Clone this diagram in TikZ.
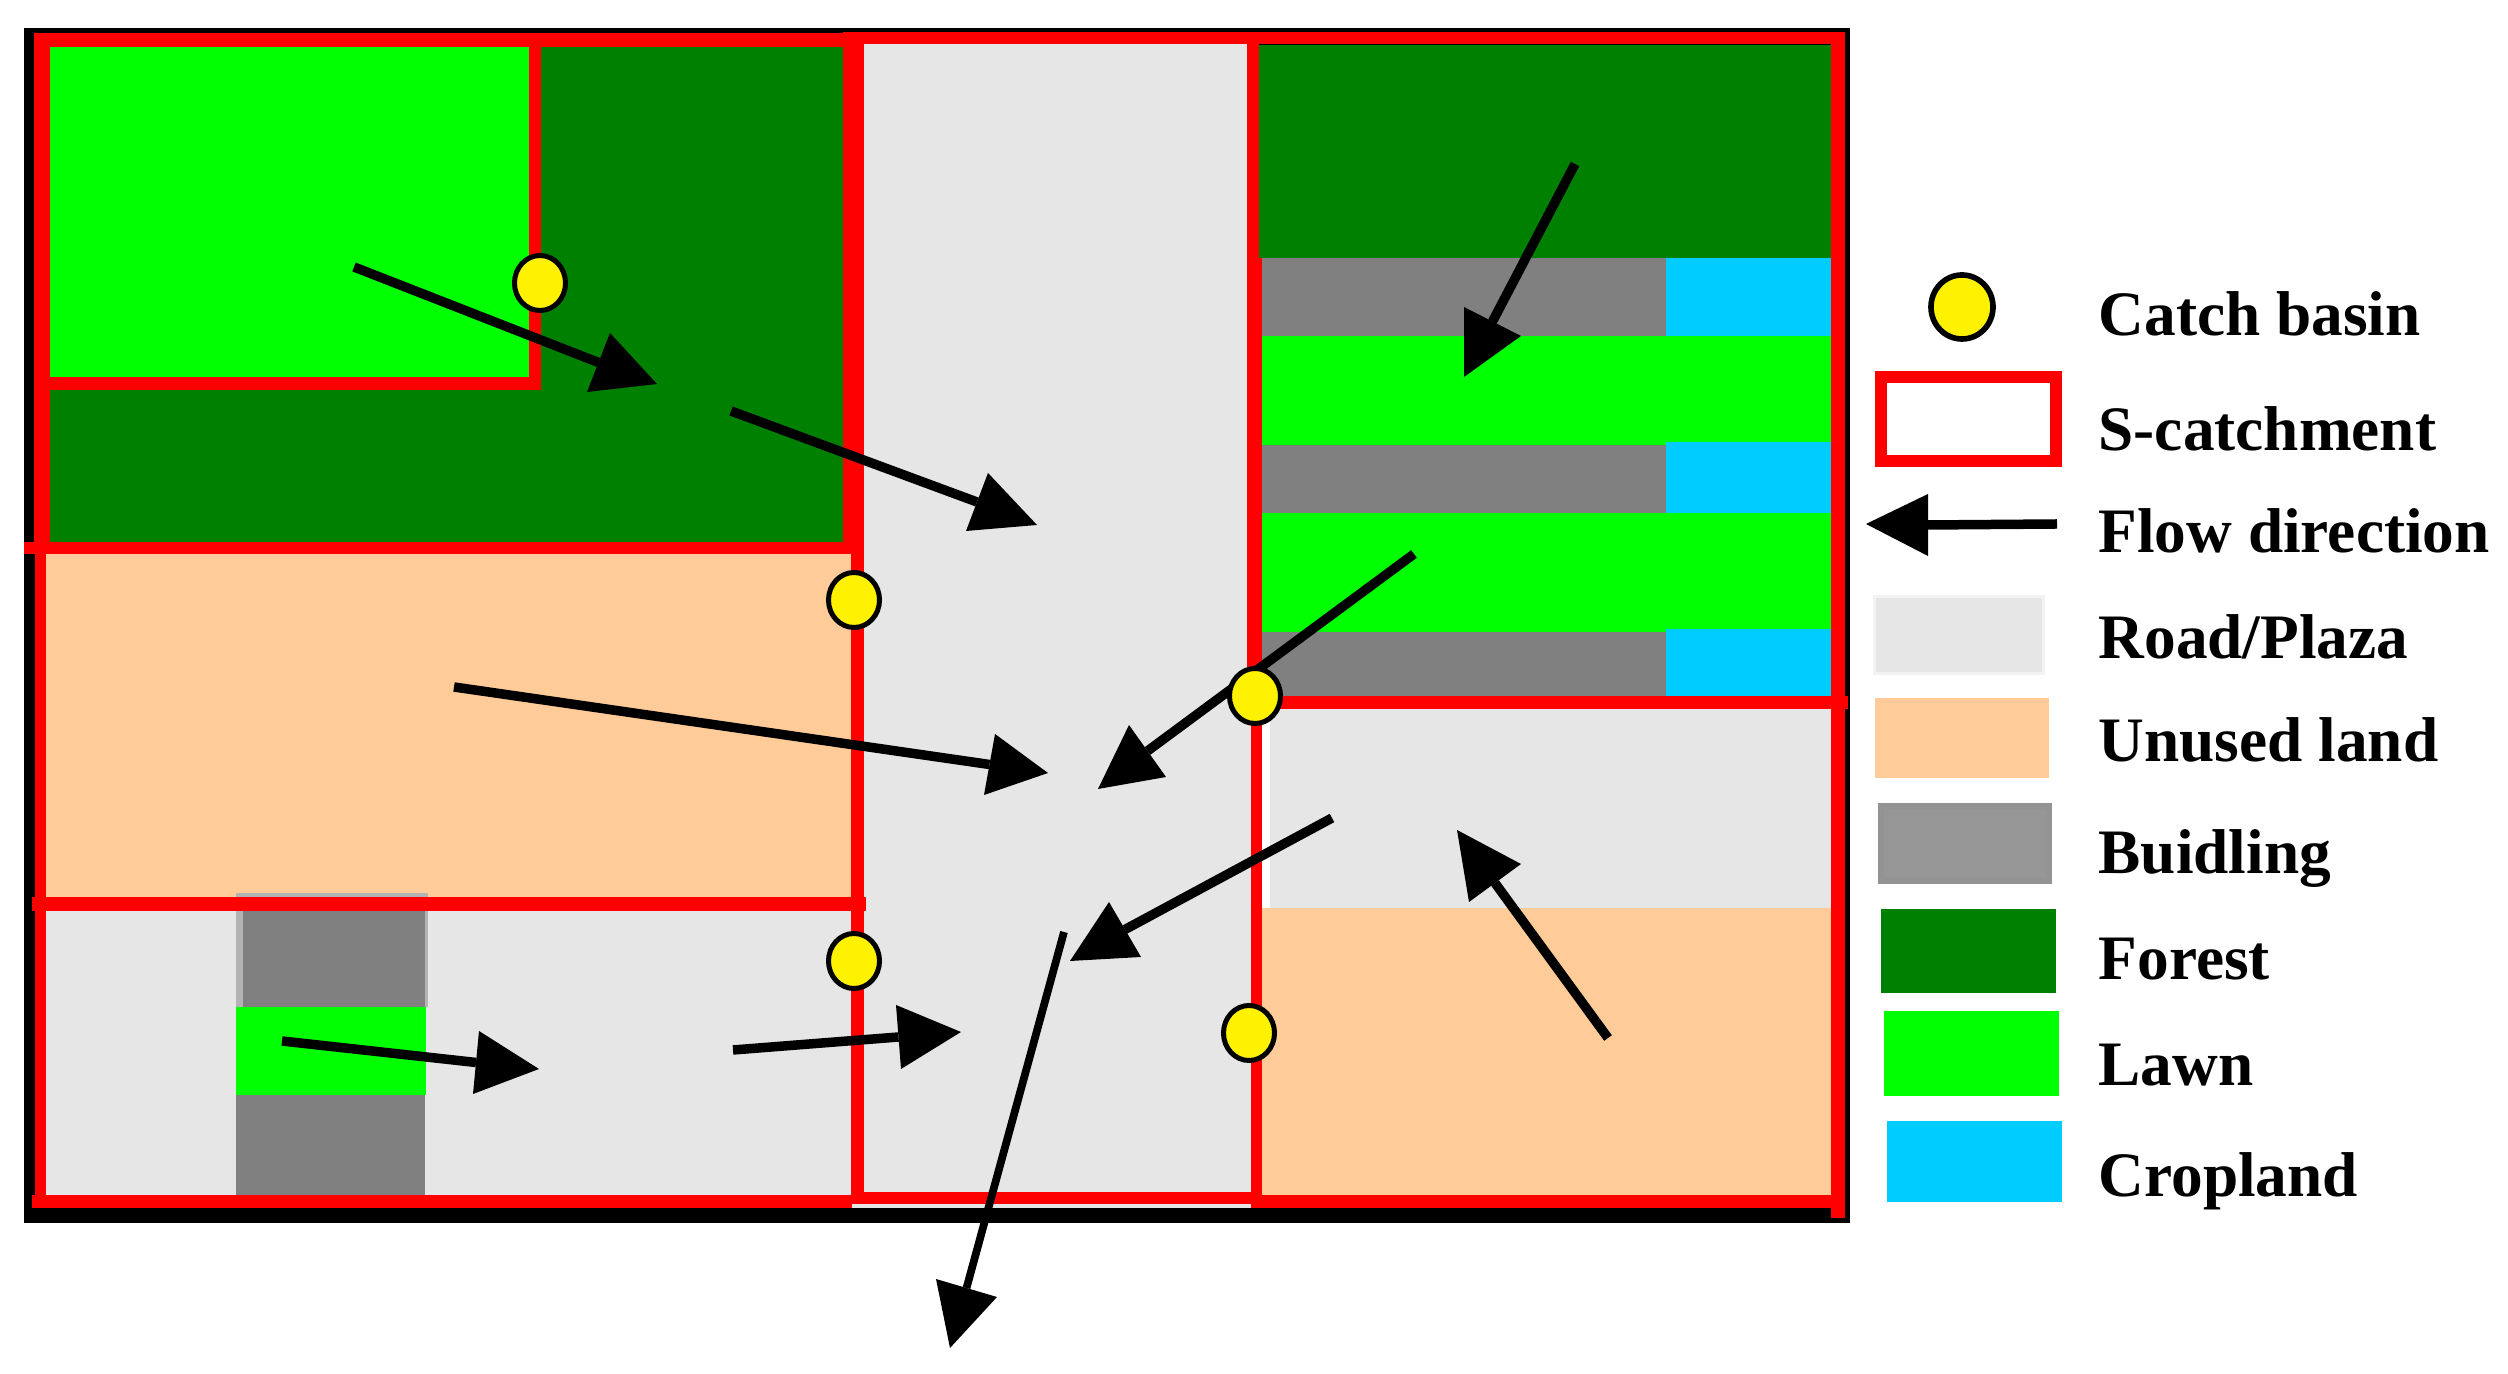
\documentclass[tikz,border=0pt]{standalone}
\usepackage{fontspec}
\setmainfont{Liberation Serif}
\usetikzlibrary{shapes.geometric,calc}
\definecolor{lawn}{HTML}{00FF00}
\definecolor{forest}{HTML}{008000}
\definecolor{unused}{HTML}{FFCC99}
\definecolor{road}{HTML}{E6E6E6}
\definecolor{bldg}{HTML}{808080}
\definecolor{crop}{HTML}{00CCFF}
\definecolor{redline}{HTML}{FF0000}
\tikzset{
  basin/.style={ellipse,draw=black,fill=yellow,line width=1.42pt,inner sep=0pt,minimum width=0.51cm,minimum height=0.55cm},
  legendbasin/.style={basin,line width=1.6pt,minimum width=0.62cm,minimum height=0.64cm},
  legendtext/.style={anchor=base west,inner sep=0pt,font=\fontsize{18pt}{20pt}\selectfont\bfseries},
  shaft/.style={line width=2.7pt,black},
  thinshaft/.style={line width=2.2pt,black},
  head/.style={fill=black}
}
\newcommand{\flowarrow}[5][shaft]{%
  \draw[#1] (#2) -- ($(#4)!0.5!(#5)$);
  \fill[head] (#3) -- (#4) -- (#5) -- cycle;}
\begin{document}
\begin{tikzpicture}[x=0.01cm,y=-0.01cm]
\useasboundingbox (0,0) rectangle (2508,1374);
\fill[white] (0,0) rectangle (2508,1374);
% frame
\fill[black] (24,28) rectangle (1850,1223);
% land use, upper left
\fill[forest] (47,47) rectangle (843,542);
\fill[lawn] (50,47) rectangle (529,377);
% unused land, left
\fill[unused] (43,554) rectangle (852,897);
% road, lower left
\fill[road] (45,911) rectangle (852,1195);
\fill[bldg!60!white] (236,893) rectangle (428,1007);
\fill[bldg] (243,911) rectangle (425,1007);
\fill[bldg] (236,1095) rectangle (425,1197);
\fill[lawn] (236,1007) rectangle (426,1095);
% middle road
\fill[road] (852,44) rectangle (1251,1208);
% right column
\fill[forest] (1259,45) rectangle (1831,258);
\fill[bldg] (1262,258) rectangle (1666,336);
\fill[crop] (1666,258) rectangle (1831,336);
\fill[lawn] (1262,336) rectangle (1831,445);
\fill[bldg] (1262,445) rectangle (1666,513);
\fill[crop] (1666,442) rectangle (1831,516);
\fill[lawn] (1262,513) rectangle (1831,632);
\fill[bldg] (1262,632) rectangle (1666,696);
\fill[crop] (1666,629) rectangle (1831,696);
\fill[white] (1262,709) rectangle (1834,1197);
\fill[road] (1270,709) rectangle (1831,908);
\fill[unused] (1262,908) rectangle (1831,1197);
% red catchment boundaries
\fill[redline] (34,33) rectangle (864,47);
\fill[redline] (34,33) rectangle (50,542);
\fill[redline] (35,542) rectangle (46,1208);
\fill[redline] (529,47) rectangle (541,390);
\fill[redline] (34,377) rectangle (541,390);
\fill[redline] (843,32) rectangle (864,554);
\fill[redline] (24,542) rectangle (864,554);
\fill[redline] (32,897) rectangle (866,911);
\fill[redline] (851,554) rectangle (864,1204);
\fill[redline] (32,1195) rectangle (852,1208);
\fill[redline] (852,1192) rectangle (1260,1204);
\fill[redline] (852,32) rectangle (1845,44);
\fill[redline] (1247,32) rectangle (1259,258);
\fill[redline] (1247,258) rectangle (1262,696);
\fill[redline] (1251,696) rectangle (1262,1208);
\fill[redline] (1251,696) rectangle (1848,709);
\fill[redline] (1831,32) rectangle (1845,1218);
\fill[redline] (1260,1195) rectangle (1845,1208);
% flow arrows
\flowarrow{354,267}{657,384}{610,333}{587,392}
\flowarrow{731,411}{1037,525}{988,473}{966,531}
\flowarrow{454,687}{1048,773}{995,734}{984,795}
\flowarrow{282,1041}{539,1069}{479,1031}{473,1094}
\flowarrow{733,1050}{961,1032}{896,1005}{901,1069}
\flowarrow[thinshaft]{1064,932}{950,1348}{936,1279}{997,1297}
\flowarrow{1332,818}{1070,961}{1109,902}{1141,957}
\flowarrow{1414,554}{1098,789}{1129,725}{1166,777}
\flowarrow{1575,164}{1464,377}{1464,307}{1521,336}
\flowarrow{1608,1038}{1457,830}{1521,864}{1469,902}
% catch basins
\node[basin] (cb1) at (540,283) {};
\node[basin] (cb2) at (854,600) {};
\node[basin] (cb3) at (854,961) {};
\node[basin] (cb4) at (1255,696) {};
\node[basin] (cb5) at (1249,1033) {};
% legend
\node[legendbasin] (lgbasin) at (1962,307) {};
\draw[redline,line width=3.4pt] (1881,377) rectangle (2056,461);
\flowarrow{2057,524}{1866,524}{1928,494}{1928,556}
\fill[road!50!white] (1873,595) rectangle (2045,675);
\fill[road] (1876,598) rectangle (2042,672);
\fill[unused] (1875,698) rectangle (2049,778);
\fill[bldg!85!white] (1878,803) rectangle (2052,884);
\fill[black!41] (1884,809) rectangle (2046,878);
\fill[forest] (1881,909) rectangle (2056,993);
\fill[lawn] (1884,1011) rectangle (2059,1096);
\fill[crop] (1887,1121) rectangle (2062,1202);
\node[legendtext] (t1) at (2098,336) {Catch basin};
\node[legendtext] (t2) at (2098,451) {S-catchment};
\node[legendtext] (t3) at (2098,553) {Flow direction};
\node[legendtext] (t4) at (2098,659) {Road/Plaza};
\node[legendtext] (t5) at (2098,762) {Unused land};
\node[legendtext] (t6) at (2098,874) {Buidling};
\node[legendtext] (t7) at (2098,980) {Forest};
\node[legendtext] (t8) at (2098,1086) {Lawn};
\node[legendtext] (t9) at (2098,1197) {Cropland};
\end{tikzpicture}
\end{document}
